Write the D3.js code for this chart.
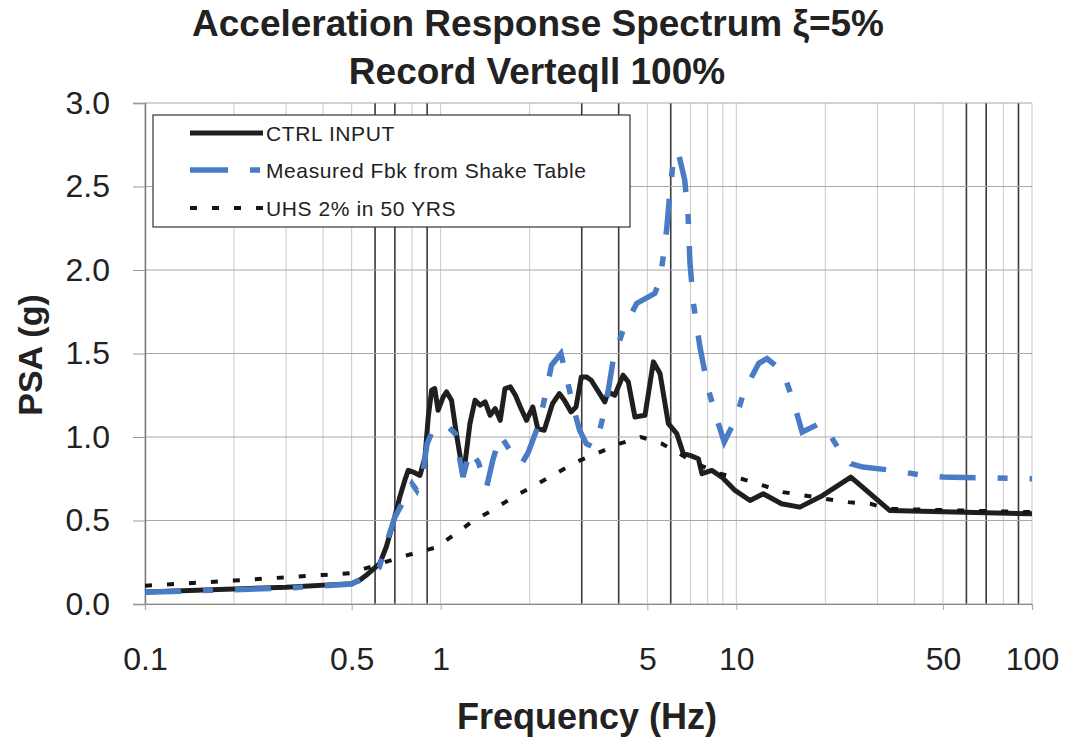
<!DOCTYPE html>
<html>
<head>
<meta charset="utf-8">
<script src="https://cdn.jsdelivr.net/npm/d3@7"></script>
<style>
  body { margin: 0; background: #fff; }
  svg text { font-family: "Liberation Sans", Arial, sans-serif; fill: #222; }
</style>
</head>
<body>
<div id="chart"></div>
<script>
// CTRL INPUT (solid black)
const ctrlFreq = [0.1, 0.3, 0.5, 0.53, 0.562, 0.623, 0.655, 0.69, 0.728, 0.757, 0.777, 0.808, 0.851, 0.885, 0.908, 0.932, 0.955, 0.98, 1.02, 1.047, 1.088, 1.13, 1.18, 1.208, 1.256, 1.307, 1.36, 1.414, 1.47, 1.53, 1.59, 1.65, 1.72, 1.79, 1.86, 1.95, 2.05, 2.13, 2.24, 2.39, 2.52, 2.62, 2.76, 2.87, 2.99, 3.11, 3.23, 3.45, 3.59, 3.68, 3.88, 4.14, 4.31, 4.54, 4.91, 5.24, 5.52, 5.89, 6.29, 6.62, 6.97, 7.44, 7.65, 8.26, 8.93, 9.9, 11.13, 12.33, 14.21, 16.4, 19.6, 24.4, 33.0, 100];
const ctrlPsa  = [0.072, 0.10, 0.122, 0.14, 0.174, 0.244, 0.343, 0.483, 0.643, 0.743, 0.80, 0.79, 0.77, 0.88, 1.12, 1.28, 1.29, 1.16, 1.24, 1.27, 1.22, 1.02, 0.82, 0.84, 1.08, 1.22, 1.19, 1.21, 1.13, 1.17, 1.10, 1.29, 1.30, 1.25, 1.18, 1.10, 1.18, 1.05, 1.04, 1.20, 1.26, 1.22, 1.15, 1.18, 1.36, 1.36, 1.34, 1.26, 1.21, 1.27, 1.25, 1.37, 1.33, 1.12, 1.13, 1.45, 1.38, 1.08, 1.02, 0.90, 0.89, 0.87, 0.78, 0.80, 0.76, 0.68, 0.62, 0.66, 0.60, 0.58, 0.65, 0.76, 0.56, 0.54];

// Measured Fbk from Shake Table (blue long/short dash)
const fbkFreq = [0.1, 0.3, 0.5, 0.53, 0.62, 0.66, 0.70, 0.73, 0.80, 0.83, 0.87, 0.90, 0.93, 1.0, 1.047, 1.12, 1.19, 1.256, 1.34, 1.43, 1.50, 1.59, 1.76, 1.88, 1.98, 2.15, 2.28, 2.37, 2.55, 2.65, 2.79, 2.95, 3.11, 3.28, 3.45, 3.63, 3.83, 4.14, 4.6, 5.3, 5.52, 5.66, 5.81, 5.97, 6.16, 6.37, 6.69, 6.87, 6.97, 7.16, 7.53, 8.0, 8.55, 9.1, 9.97, 10.6, 11.9, 12.7, 14.4, 15.6, 16.7, 19.1, 20.1, 22.0, 24.4, 26.8, 33.9, 42.9, 50, 100];
const fbkPsa  = [0.07, 0.095, 0.12, 0.144, 0.22, 0.38, 0.52, 0.58, 0.72, 0.68, 0.78, 0.96, 1.02, 1.04, 1.07, 1.02, 0.76, 0.92, 0.85, 0.70, 0.86, 1.01, 0.89, 0.84, 0.91, 1.08, 1.28, 1.43, 1.50, 1.38, 1.20, 1.04, 0.96, 0.94, 1.04, 1.20, 1.46, 1.64, 1.80, 1.86, 1.94, 2.08, 2.24, 2.48, 2.70, 2.70, 2.54, 2.32, 2.04, 1.80, 1.54, 1.30, 1.12, 0.97, 1.11, 1.27, 1.44, 1.47, 1.39, 1.21, 1.03, 1.08, 1.05, 0.94, 0.84, 0.82, 0.80, 0.77, 0.76, 0.75];

// UHS 2% in 50 YRS (black dotted)
const uhsFreq = [0.1, 0.2, 0.3, 0.4, 0.5, 0.55, 0.73, 0.84, 0.97, 1.1, 1.27, 1.49, 1.76, 2.08, 2.5, 2.87, 3.36, 4.03, 4.76, 5.6, 7.35, 8.8, 10.4, 12.3, 14.4, 17.0, 19.9, 23.9, 28.4, 32.6, 100];
const uhsPsa  = [0.11, 0.14, 0.16, 0.174, 0.185, 0.21, 0.28, 0.31, 0.34, 0.41, 0.49, 0.56, 0.64, 0.71, 0.79, 0.85, 0.90, 0.96, 1.00, 0.96, 0.84, 0.78, 0.75, 0.71, 0.67, 0.65, 0.63, 0.61, 0.60, 0.57, 0.55];

const xTickValues = [0.1, 0.5, 1, 5, 10, 50, 100];
const yTickValues = [0, 0.5, 1.0, 1.5, 2.0, 2.5, 3.0];
// minor gridlines that came out dark in the scanned original
const darkGridFreqs = [0.6, 0.7, 0.9, 3, 4, 6, 60, 70, 90];

const seriesNames = ["CTRL INPUT", "Measured Fbk from Shake Table", "UHS 2% in 50 YRS"];

const width = 1065, height = 737;
const margin = { left: 145, right: 33, top: 103, bottom: 133 };

const svg = d3.select("#chart").append("svg")
  .attr("width", width)
  .attr("height", height);

const x = d3.scaleLog()
  .domain([0.1, 100])
  .range([margin.left, width - margin.right]);

const y = d3.scaleLinear()
  .domain([0, 3])
  .range([height - margin.bottom, margin.top]);

const isDark = d => darkGridFreqs.some(v => Math.abs(v - d) < 1e-6);

// grid
const grid = svg.append("g").attr("class", "grid");
grid.selectAll(".vgrid")
  .data(x.ticks())
  .join("line")
  .attr("x1", d => x(d)).attr("x2", d => x(d))
  .attr("y1", y(0)).attr("y2", y(3))
  .attr("stroke", d => isDark(d) ? "#3a3a3a" : "#c8c8c8")
  .attr("stroke-width", d => isDark(d) ? 1.6 : 1);

grid.selectAll(".hgrid")
  .data(yTickValues)
  .join("line")
  .attr("x1", x(0.1)).attr("x2", x(100))
  .attr("y1", d => y(d)).attr("y2", d => y(d))
  .attr("stroke", "#a8a8a8")
  .attr("stroke-width", 1.2);

// axes
const yAxis = d3.axisLeft(y)
  .tickValues(yTickValues)
  .tickFormat(d3.format(".1f"))
  .tickSize(12)
  .tickPadding(23);

svg.append("g")
  .attr("class", "y-axis")
  .attr("transform", `translate(${margin.left},0)`)
  .call(yAxis)
  .call(g => g.select(".domain").attr("stroke", "#777").attr("stroke-width", 1.4))
  .call(g => g.selectAll(".tick line").attr("stroke", "#999"))
  .call(g => g.selectAll("text").attr("font-size", 32).attr("fill", "#222"));

const xAxis = d3.axisBottom(x)
  .tickValues(xTickValues)
  .tickFormat(d => String(d))
  .tickSize(6)
  .tickPadding(37);

svg.append("g")
  .attr("class", "x-axis")
  .attr("transform", `translate(0,${y(0)})`)
  .call(xAxis)
  .call(g => g.select(".domain").attr("stroke", "#888").attr("stroke-width", 1.2))
  .call(g => g.selectAll(".tick line").attr("stroke", "#aaa"))
  .call(g => g.selectAll("text").attr("font-size", 32).attr("fill", "#222"));

// curves
const line = d3.line()
  .x(d => x(d[0]))
  .y(d => y(d[1]));

const ctrlData = ctrlFreq.map((f, i) => [f, ctrlPsa[i]]);
const fbkData = fbkFreq.map((f, i) => [f, fbkPsa[i]]);
const uhsData = uhsFreq.map((f, i) => [f, uhsPsa[i]]);

const styles = [
  { color: "#1f1f1f", width: 5, dash: null },
  { color: "#4a7cc6", width: 5.5, dash: "36,22,10,22" },
  { color: "#151515", width: 4, dash: "7,15" },
];

svg.append("path")
  .datum(ctrlData)
  .attr("d", line)
  .attr("fill", "none")
  .attr("stroke", styles[0].color)
  .attr("stroke-width", styles[0].width)
  .attr("stroke-linejoin", "round");

svg.append("path")
  .datum(uhsData)
  .attr("d", line)
  .attr("fill", "none")
  .attr("stroke", styles[2].color)
  .attr("stroke-width", styles[2].width)
  .attr("stroke-dasharray", styles[2].dash);

svg.append("path")
  .datum(fbkData)
  .attr("d", line)
  .attr("fill", "none")
  .attr("stroke", styles[1].color)
  .attr("stroke-width", styles[1].width)
  .attr("stroke-dasharray", styles[1].dash);

// legend
const legend = svg.append("g").attr("class", "legend");
legend.append("rect")
  .attr("x", 153).attr("y", 115)
  .attr("width", 477).attr("height", 112)
  .attr("fill", "#fff")
  .attr("stroke", "#333")
  .attr("stroke-width", 1.2);

const rows = legend.selectAll(".row")
  .data(seriesNames)
  .join("g")
  .attr("transform", (d, i) => `translate(0,${[133, 170, 208][i]})`);

rows.append("line")
  .attr("x1", 190).attr("x2", 263)
  .attr("stroke", (d, i) => styles[i].color)
  .attr("stroke-width", (d, i) => styles[i].width)
  .attr("stroke-dasharray", (d, i) => i === 1 ? "38,22,10,30" : styles[i].dash);

rows.append("text")
  .attr("x", 266)
  .attr("dy", "0.36em")
  .attr("font-size", 21)
  .attr("letter-spacing", 0.6)
  .text(d => d);

// titles
svg.append("text")
  .attr("x", 538).attr("y", 36)
  .attr("text-anchor", "middle")
  .attr("font-size", 37).attr("font-weight", "bold")
  .text("Acceleration Response Spectrum ξ=5%");

svg.append("text")
  .attr("x", 537).attr("y", 84)
  .attr("text-anchor", "middle")
  .attr("font-size", 37).attr("font-weight", "bold")
  .text("Record Verteqll 100%");

svg.append("text")
  .attr("x", 587).attr("y", 729)
  .attr("text-anchor", "middle")
  .attr("font-size", 36).attr("font-weight", "bold")
  .text("Frequency (Hz)");

svg.append("text")
  .attr("transform", "translate(42,355) rotate(-90)")
  .attr("text-anchor", "middle")
  .attr("font-size", 34).attr("font-weight", "bold")
  .text("PSA (g)");
</script>
</body>
</html>
